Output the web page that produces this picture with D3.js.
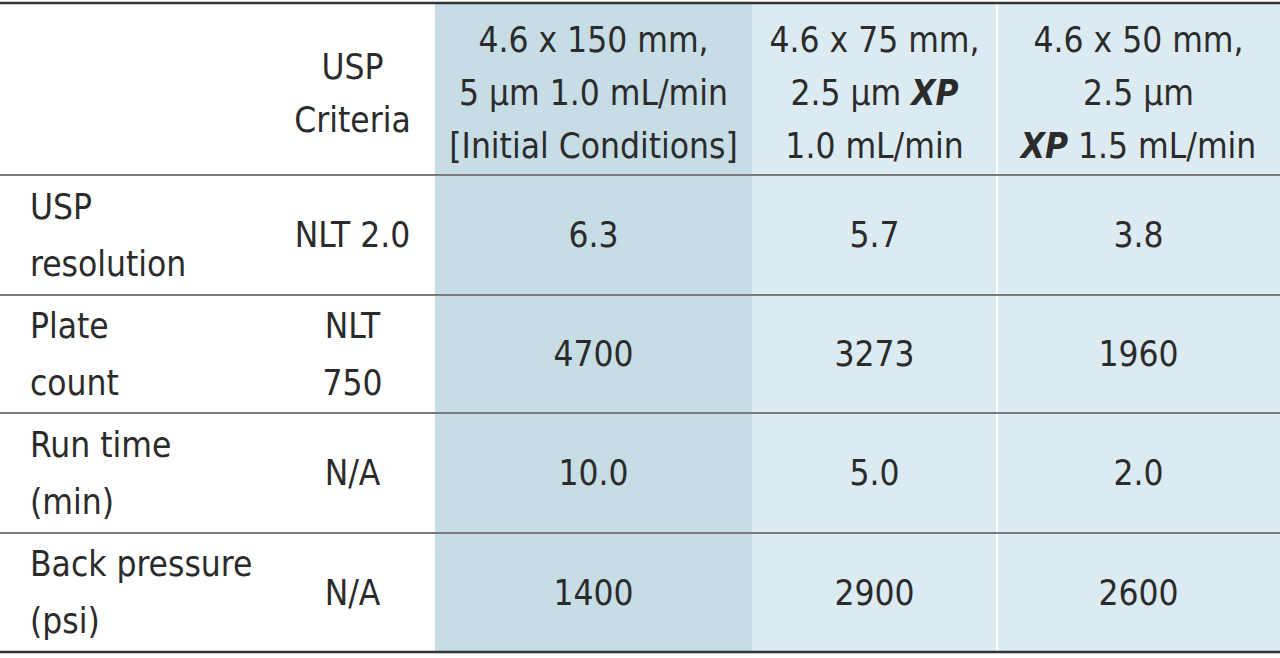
<!DOCTYPE html><html><head><meta charset="utf-8"><script src="https://cdn.jsdelivr.net/npm/d3@7"></script>
<style>body{margin:0;background:#fff}text{font-family:"Liberation Sans Narrow","DejaVu Sans Condensed",sans-serif;fill:#2b2b2b;font-size:35px}</style></head><body>
<svg id="c" width="1280" height="658"></svg>
<script>
const headers=[[""],["USP","Criteria"],["4.6 x 150 mm,","5 µm 1.0 mL/min","[Initial Conditions]"],["4.6 x 75 mm,","2.5 µm <b>XP</b>","1.0 mL/min"],["4.6 x 50 mm,","2.5 µm","<b>XP</b> 1.5 mL/min"]];
const rowLabels=[["USP","resolution"],["Plate","count"],["Run time","(min)"],["Back pressure","(psi)"]];
const criteria=[["NLT 2.0"],["NLT","750"],["N/A"],["N/A"]];
const col1=["6.3","4700","10.0","1400"];
const col2=["5.7","3273","5.0","2900"];
const col3=["3.8","1960","2.0","2600"];
const svg=d3.select("#c");
const colEdges=[0,270,435,752,997,1280];
const rowEdges=[3,175,295,413,533,652];
const fills=[null,null,"#c6dde6","#dcebf1","#dcebf1"];
for(let c=2;c<5;c++){svg.append("rect").attr("x",colEdges[c]).attr("y",rowEdges[0]).attr("width",colEdges[c+1]-colEdges[c]).attr("height",rowEdges[5]-rowEdges[0]).attr("fill",fills[c]);}
svg.append("line").attr("x1",997).attr("x2",997).attr("y1",3).attr("y2",652).attr("stroke","#fff").attr("stroke-width",2);
rowEdges.forEach((y,i)=>svg.append("line").attr("x1",0).attr("x2",1280).attr("y1",y).attr("y2",y).attr("stroke",i==0||i==5?"#333":"#7a7a7a").attr("stroke-width",i==0||i==5?2.5:1.8));
function cell(lines,c,r,align){
  const x0=colEdges[c],x1=colEdges[c+1],cy=(rowEdges[r]+rowEdges[r+1])/2+(r==0?4:0),lh=r==0?53:57;
  const x=align=="start"?x0+30:(x0+x1)/2;
  lines.forEach((l,i)=>{
    const t=svg.append("text").attr("x",x).attr("y",cy+(i-(lines.length-1)/2)*lh+12).attr("text-anchor",align);
    l.split(/(<b>.*?<\/b>)/).forEach(p=>{if(!p)return;const b=p.startsWith("<b>");t.append("tspan").text(b?p.slice(3,-4):p).attr("font-weight",b?"bold":null).attr("font-style",b?"italic":null);});
  });
}
headers.forEach((h,c)=>cell(h,c,0,"middle"));
rowLabels.forEach((l,r)=>{cell(l,0,r+1,"start");cell(criteria[r],1,r+1,"middle");cell([col1[r]],2,r+1,"middle");cell([col2[r]],3,r+1,"middle");cell([col3[r]],4,r+1,"middle");});
</script></body></html>
